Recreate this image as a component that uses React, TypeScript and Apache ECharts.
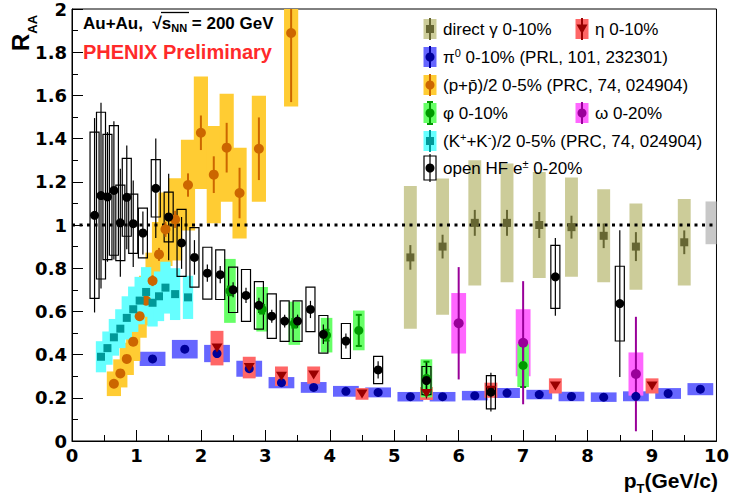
import React, { useEffect, useRef } from "react";
import * as echarts from "echarts";

// ---------------- data ----------------
// direct gamma 0-10%
const gammaX = [5.25, 5.75, 6.25, 6.75, 7.25, 7.75, 8.25, 8.75, 9.5];
const gammaY = [0.85, 0.9, 1.01, 1.01, 1.0, 0.99, 0.95, 0.9, 0.92];
const gammaStat = [0.057, 0.055, 0.06, 0.06, 0.06, 0.053, 0.057, 0.067, 0.055];
const gammaSys = [0.33, 0.315, 0.29, 0.275, 0.245, 0.23, 0.215, 0.2, 0.2];

// eta 0-10%
const etaX = [2.25, 2.75, 3.25, 3.75, 4.5, 5.5, 6.5, 7.5, 9.0];
const etaY = [0.43, 0.34, 0.3, 0.305, 0.218, 0.22, 0.235, 0.255, 0.255];
const etaSys = [0.08, 0.05, 0.045, 0.04, 0.027, 0.03, 0.035, 0.035, 0.035];

// pi0 0-10%
const pi0X = [1.25, 1.75, 2.25, 2.75, 3.25, 3.75, 4.25, 4.75, 5.25, 5.75, 6.25, 6.75, 7.25, 7.75, 8.25, 8.75, 9.25, 9.75];
const pi0Y = [0.38, 0.425, 0.405, 0.335, 0.27, 0.248, 0.23, 0.225, 0.205, 0.205, 0.21, 0.222, 0.215, 0.206, 0.203, 0.207, 0.22, 0.24];
const pi0Sys = [0.033, 0.043, 0.04, 0.037, 0.026, 0.025, 0.025, 0.023, 0.022, 0.022, 0.022, 0.023, 0.022, 0.022, 0.022, 0.023, 0.025, 0.028];

// (p+pbar)/2 0-5%
const protonX = [0.65, 0.75, 0.85, 0.95, 1.05, 1.15, 1.25, 1.35, 1.45, 1.6, 1.8, 2.0, 2.2, 2.4, 2.6, 2.9, 3.4];
const protonY = [0.265, 0.313, 0.38, 0.46, 0.578, 0.65, 0.742, 0.864, 0.98, 1.026, 1.185, 1.427, 1.233, 1.358, 1.148, 1.353, 1.889];
const protonStat = [0.01, 0.012, 0.014, 0.016, 0.02, 0.022, 0.025, 0.03, 0.035, 0.04, 0.054, 0.08, 0.085, 0.115, 0.117, 0.145, 0.32];
const protonSys = [0.057, 0.065, 0.075, 0.09, 0.1, 0.115, 0.13, 0.15, 0.17, 0.19, 0.21, 0.26, 0.225, 0.25, 0.21, 0.245, 0.34];

// (K+ + K-)/2 0-5%
const kaonX = [0.45, 0.55, 0.65, 0.75, 0.85, 0.95, 1.05, 1.15, 1.25, 1.35, 1.45, 1.6, 1.8];
const kaonY = [0.39, 0.43, 0.48, 0.52, 0.57, 0.61, 0.65, 0.69, 0.64, 0.67, 0.71, 0.68, 0.665];
const kaonSys = [0.072, 0.077, 0.085, 0.09, 0.1, 0.105, 0.11, 0.115, 0.11, 0.115, 0.12, 0.12, 0.1];

// phi 0-10%
const phiX = [2.45, 2.95, 3.45, 3.95, 4.45, 5.5, 7.0];
const phiY = [0.695, 0.61, 0.545, 0.49, 0.512, 0.29, 0.35];
const phiStat = [0.02, 0.02, 0.02, 0.025, 0.072, 0.077, 0.1];
const phiSys = [0.148, 0.103, 0.1, 0.08, 0.092, 0.088, 0.1];

// omega 0-20%
const omegaX = [6.0, 7.0, 8.75];
const omegaY = [0.545, 0.455, 0.31];
const omegaStat = [0.26, 0.285, 0.265];
const omegaSys = [0.14, 0.155, 0.1];

// open HF e+- 0-20%
const hfX = [0.35, 0.45, 0.55, 0.65, 0.75, 0.85, 0.95, 1.1, 1.3, 1.5, 1.7, 1.9, 2.1, 2.3, 2.5, 2.7, 2.9, 3.1, 3.3, 3.5, 3.7, 3.9, 4.25, 4.75, 5.5, 6.5, 7.5, 8.5];
const hfY = [1.045, 1.136, 1.13, 1.16, 1.01, 1.128, 1.006, 0.963, 1.17, 1.037, 0.917, 0.85, 0.777, 0.77, 0.7, 0.674, 0.628, 0.578, 0.555, 0.555, 0.609, 0.494, 0.463, 0.329, 0.28, 0.226, 0.76, 0.636];
const hfStat = [0.45, 0.43, 0.3, 0.32, 0.25, 0.24, 0.2, 0.1, 0.23, 0.2, 0.12, 0.08, 0.04, 0.04, 0.035, 0.035, 0.035, 0.03, 0.03, 0.03, 0.04, 0.045, 0.035, 0.04, 0.083, 0.09, 0.18, 0.34];
const hfSys = [0.385, 0.386, 0.29, 0.3, 0.175, 0.18, 0.137, 0.115, 0.133, 0.115, 0.155, 0.138, 0.12, 0.115, 0.105, 0.12, 0.11, 0.103, 0.094, 0.094, 0.103, 0.087, 0.081, 0.063, 0.065, 0.077, 0.146, 0.173];

// normalisation uncertainty box at R_AA = 1
const normX = [9.915];
const normY = [1.01];
const normErr = [0.099];

// axis ticks
const xTicks = { min: 0, max: 10, interval: 1 };
const yTicks = { min: 0, max: 2, interval: 0.2 };

// ---------------- helpers ----------------
const FONT = "'Liberation Sans', Arial, Helvetica, sans-serif";

function clampY(v: number, cs: any) {
  return Math.min(Math.max(v, cs.y), cs.y + cs.height);
}

function boxSeries(xs: number[], ys: number[], errs: number[], width: number, fill: string | null, stroke: string | null, z: number) {
  return {
    type: "custom",
    silent: true,
    z,
    data: xs.map((x, i) => [x, ys[i], errs[i]]),
    encode: { x: 0, y: 1 },
    renderItem: (params: any, api: any) => {
      const x = api.value(0);
      const y = api.value(1);
      const e = api.value(2);
      const a = api.coord([x - width / 2, y + e]);
      const b = api.coord([x + width / 2, y - e]);
      const cs = params.coordSys;
      const top = clampY(a[1], cs);
      const bot = clampY(b[1], cs);
      return {
        type: "rect",
        shape: { x: a[0], y: top, width: b[0] - a[0], height: bot - top },
        style: stroke ? { fill: "none", stroke, lineWidth: 1.2 } : { fill },
      };
    },
  };
}

function errSeries(xs: number[], ys: number[], errs: number[], color: string, lw: number, z: number, cap = 0) {
  return {
    type: "custom",
    silent: true,
    z,
    data: xs.map((x, i) => [x, ys[i], errs[i]]),
    encode: { x: 0, y: 1 },
    renderItem: (params: any, api: any) => {
      const x = api.value(0);
      const y = api.value(1);
      const e = api.value(2);
      const a = api.coord([x, y + e]);
      const b = api.coord([x, y - e]);
      const cs = params.coordSys;
      const top = clampY(a[1], cs);
      const bot = clampY(b[1], cs);
      const children: any[] = [
        { type: "line", shape: { x1: a[0], y1: top, x2: a[0], y2: bot }, style: { stroke: color, lineWidth: lw } },
      ];
      if (cap) {
        children.push({ type: "line", shape: { x1: a[0] - cap, y1: top, x2: a[0] + cap, y2: top }, style: { stroke: color, lineWidth: lw } });
        children.push({ type: "line", shape: { x1: a[0] - cap, y1: bot, x2: a[0] + cap, y2: bot }, style: { stroke: color, lineWidth: lw } });
      }
      return { type: "group", children };
    },
  };
}

function markerSeries(xs: number[], ys: number[], symbol: string, size: any, color: string, z: number, rotate = 0) {
  return {
    type: "scatter",
    silent: true,
    z,
    data: xs.map((x, i) => [x, ys[i]]),
    symbol,
    symbolSize: size,
    symbolRotate: rotate,
    itemStyle: { color, opacity: 1 },
    emphasis: { disabled: true },
  };
}

const legendRich = {
  n: { fontSize: 17, fontFamily: FONT, fill: "#000", lineHeight: 20 },
  sup: { fontSize: 11, fontFamily: FONT, fill: "#000", lineHeight: 11, verticalAlign: "top" },
};

function legendItem(cx: number, cy: number, o: any) {
  const els: any[] = [];
  const bw = o.bw || 13;
  const bh = o.bh || 20;
  els.push({
    type: "rect",
    z: 100,
    shape: { x: cx - bw / 2, y: cy - bh / 2, width: bw, height: bh },
    style: o.open ? { fill: "none", stroke: "#000", lineWidth: 1.2 } : { fill: o.box },
  });
  const lh = o.lh || 22;
  els.push({ type: "line", z: 101, shape: { x1: cx, y1: cy - lh / 2, x2: cx, y2: cy + lh / 2 }, style: { stroke: o.color, lineWidth: o.lw || 2 } });
  if (o.cap) {
    els.push({ type: "line", z: 101, shape: { x1: cx - 3, y1: cy - lh / 2, x2: cx + 3, y2: cy - lh / 2 }, style: { stroke: o.color, lineWidth: 2 } });
    els.push({ type: "line", z: 101, shape: { x1: cx - 3, y1: cy + lh / 2, x2: cx + 3, y2: cy + lh / 2 }, style: { stroke: o.color, lineWidth: 2 } });
  }
  if (o.marker === "circle") {
    els.push({ type: "circle", z: 102, shape: { cx, cy, r: 4.5 }, style: { fill: o.color } });
  } else if (o.marker === "square") {
    els.push({ type: "rect", z: 102, shape: { x: cx - 4, y: cy - 4, width: 8, height: 8 }, style: { fill: o.color } });
  } else if (o.marker === "triangle") {
    els.push({ type: "polygon", z: 102, shape: { points: [[cx - 5.5, cy - 4.5], [cx + 5.5, cy - 4.5], [cx, cy + 5]] }, style: { fill: o.color } });
  }
  els.push({
    type: "text",
    z: 102,
    x: cx + 13,
    y: cy,
    style: { text: o.text, rich: legendRich, verticalAlign: "middle", align: "left" },
  });
  return els;
}

function buildOption(): any {
  const rows = [29, 57, 85, 113, 141, 168];
  const c1 = 430;
  const c2 = 582;

  const graphic: any[] = [
    ...legendItem(c1, rows[0], { box: "#cccc99", color: "#666633", marker: "square", text: "{n|direct γ 0-10%}" }),
    ...legendItem(c2, rows[0], { box: "#ff6666", color: "#990000", marker: "triangle", text: "{n|η 0-10%}" }),
    ...legendItem(c1, rows[1], { box: "#6666ff", color: "#000099", marker: "circle", text: "{n|π}{sup|0}{n| 0-10% (PRL, 101, 232301)}" }),
    ...legendItem(c1, rows[2], { box: "#ffcc33", color: "#cc6600", marker: "circle", text: "{n|(p+p̄)/2 0-5% (PRC, 74, 024904)}" }),
    ...legendItem(c1, rows[3], { box: "#66ff66", color: "#009900", marker: "circle", text: "{n|φ 0-10%}", cap: true }),
    ...legendItem(c2, rows[3], { box: "#ff66ff", color: "#990099", marker: "circle", text: "{n|ω 0-20%}" }),
    ...legendItem(c1, rows[4], { box: "#66ffff", color: "#009999", marker: "square", text: "{n|(K}{sup|+}{n|+K}{sup|-}{n|)/2 0-5% (PRC, 74, 024904)}" }),
    ...legendItem(c1, rows[5], { open: true, bw: 12, bh: 24, lh: 28, lw: 1.2, color: "#000", marker: "circle", text: "{n|open HF e}{sup|±}{n| 0-20%}" }),
    // title
    {
      type: "text",
      z: 100,
      x: 83,
      y: 23,
      style: {
        text: "{t|Au+Au,  √}{t|s}{sub|NN}{t| = 200 GeV}",
        verticalAlign: "middle",
        align: "left",
        rich: {
          t: { fontSize: 17, fontWeight: "bold", fontFamily: FONT, fill: "#000", lineHeight: 20 },
          sub: { fontSize: 11, fontWeight: "bold", fontFamily: FONT, fill: "#000", lineHeight: 11, verticalAlign: "bottom" },
        },
      },
    },
    { type: "line", z: 100, shape: { x1: 161, y1: 12.5, x2: 189, y2: 12.5 }, style: { stroke: "#000", lineWidth: 1.3 } },
    {
      type: "text",
      z: 100,
      x: 83,
      y: 52,
      style: { text: "PHENIX Preliminary", fill: "#ff2a2a", fontSize: 20, fontWeight: "bold", fontFamily: FONT, verticalAlign: "middle", align: "left" },
    },
    // y axis title R_AA
    {
      type: "text",
      z: 100,
      x: 21,
      y: 33,
      rotation: Math.PI / 2,
      style: {
        text: "{r|R}{s|AA}",
        align: "center",
        verticalAlign: "middle",
        rich: {
          r: { fontSize: 24, fontWeight: "bold", fontFamily: FONT, fill: "#000", lineHeight: 26, verticalAlign: "top" },
          s: { fontSize: 13, fontWeight: "bold", fontFamily: FONT, fill: "#000", lineHeight: 13, verticalAlign: "top", padding: [18, 0, 0, 0] },
        },
      },
    },
    // x axis title p_T(GeV/c)
    {
      type: "text",
      z: 100,
      x: 718,
      y: 480,
      style: {
        text: "{p|p}{s|T}{p|(GeV/c)}",
        align: "right",
        verticalAlign: "middle",
        rich: {
          p: { fontSize: 21, fontWeight: "bold", fontFamily: FONT, fill: "#000", lineHeight: 21, verticalAlign: "top" },
          s: { fontSize: 13, fontWeight: "bold", fontFamily: FONT, fill: "#000", lineHeight: 13, verticalAlign: "top", padding: [12, 0, 0, 0] },
        },
      },
    },
  ];

  const axisLabelStyle = { fontFamily: "'DejaVu Sans', sans-serif", fontWeight: "bold", fontSize: 18, color: "#000" };

  return {
    animation: false,
    backgroundColor: "#fff",
    grid: { left: 72, right: 14, top: 5, bottom: 57, show: true, borderColor: "#000", borderWidth: 1, backgroundColor: "transparent" },
    xAxis: {
      type: "value",
      min: xTicks.min,
      max: xTicks.max,
      interval: xTicks.interval,
      axisLine: { show: true, onZero: false, lineStyle: { color: "#000", width: 1 } },
      axisTick: { show: true, inside: true, length: 11, lineStyle: { color: "#000" } },
      minorTick: { show: true, splitNumber: 2, length: 6, lineStyle: { color: "#000" } },
      splitLine: { show: false },
      axisLabel: { ...axisLabelStyle, margin: 5, lineHeight: 18, showMinLabel: true, showMaxLabel: true },
    },
    yAxis: {
      type: "value",
      min: yTicks.min,
      max: yTicks.max,
      interval: yTicks.interval,
      axisLine: { show: true, onZero: false, lineStyle: { color: "#000", width: 1 } },
      axisTick: { show: true, inside: true, length: 11, lineStyle: { color: "#000" } },
      minorTick: { show: true, splitNumber: 2, length: 6, lineStyle: { color: "#000" } },
      splitLine: { show: false },
      axisLabel: {
        ...axisLabelStyle,
        margin: 5,
        showMinLabel: true,
        showMaxLabel: true,
        formatter: (v: number) => String(Math.round(v * 10) / 10),
      },
    },
    graphic,
    series: [
      boxSeries(normX, normY, normErr, 0.17, "#c8c8c8", null, 10),
      boxSeries(gammaX, gammaY, gammaSys, 0.2, "#cccc99", null, 10),
      boxSeries(pi0X, pi0Y, pi0Sys, 0.4, "#6666ff", null, 11),
      boxSeries(etaX, etaY, etaSys, 0.2, "#ff6666", null, 12),
      boxSeries(protonX, protonY, protonSys, 0.22, "#ffcc33", null, 13),
      boxSeries(kaonX, kaonY, kaonSys, 0.16, "#66ffff", null, 14),
      boxSeries(omegaX, omegaY, omegaSys, 0.23, "#ff66ff", null, 15),
      boxSeries(phiX, phiY, phiSys, 0.18, "#66ff66", null, 16),
      boxSeries(hfX, hfY, hfSys, 0.14, null, "#000", 17),
      {
        type: "line",
        silent: true,
        z: 20,
        data: [[xTicks.min, 1], [xTicks.max, 1]],
        showSymbol: false,
        symbol: "none",
        lineStyle: { color: "#000", width: 3, type: [3, 4.5] },
      },
      errSeries(gammaX, gammaY, gammaStat, "#666633", 2, 21),
      errSeries(protonX, protonY, protonStat, "#cc6600", 2, 22),
      errSeries(phiX, phiY, phiStat, "#009900", 2, 23, 3),
      errSeries(omegaX, omegaY, omegaStat, "#990099", 2, 24),
      errSeries(hfX, hfY, hfStat, "#000", 1.2, 25),
      markerSeries(gammaX, gammaY, "rect", 8, "#666633", 30),
      markerSeries(pi0X, pi0Y, "circle", 9, "#000099", 31),
      markerSeries(etaX, etaY, "triangle", [11, 9], "#990000", 32, 180),
      markerSeries(protonX, protonY, "circle", 10, "#cc6600", 33),
      markerSeries(kaonX, kaonY, "rect", 8, "#009999", 34),
      markerSeries(omegaX, omegaY, "circle", 10, "#990099", 35),
      markerSeries(phiX, phiY, "circle", 9, "#009900", 36),
      markerSeries(hfX, hfY, "circle", 9, "#000", 37),
    ],
  };
}

export default function App() {
  const ref = useRef<HTMLDivElement>(null);
  useEffect(() => {
    if (!ref.current) return;
    document.body.style.margin = "0";
    const chart = echarts.init(ref.current, undefined, { renderer: "svg" });
    chart.setOption(buildOption());
    return () => {
      chart.dispose();
    };
  }, []);
  return <div ref={ref} style={{ position: "fixed", left: 0, top: 0, width: 732, height: 498, background: "#fff" }} />;
}
